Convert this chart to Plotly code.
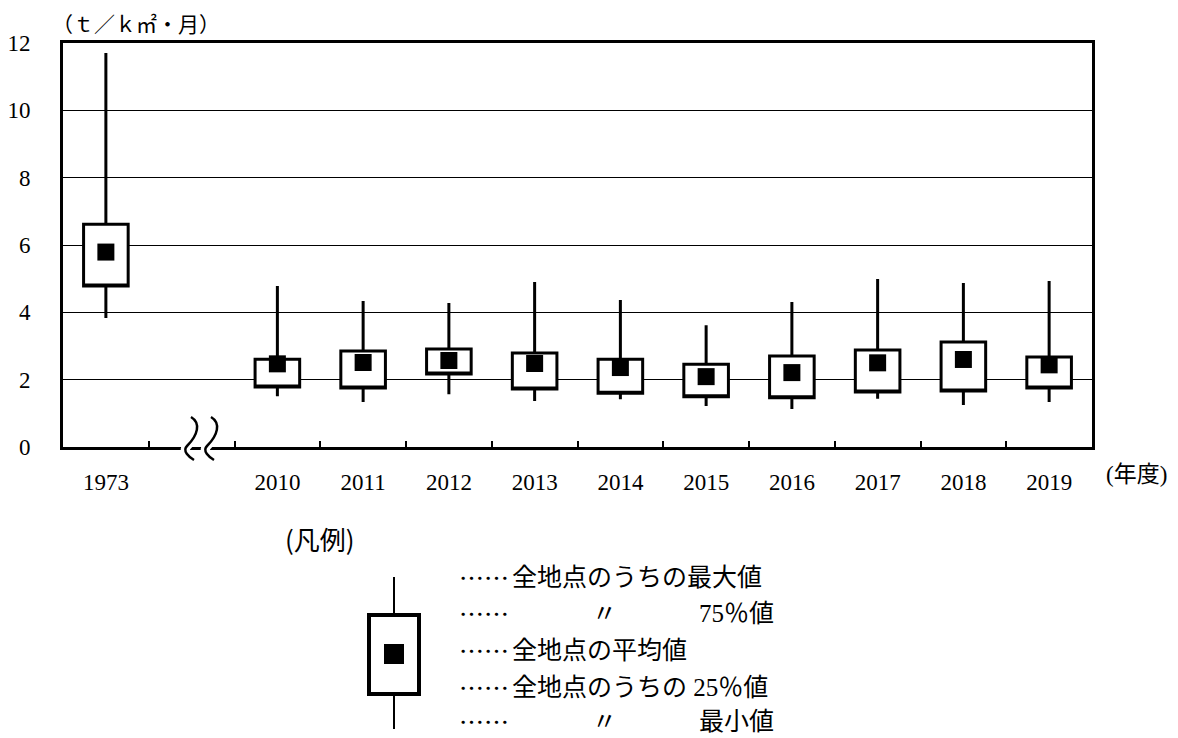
import plotly.graph_objects as go

# 降下ばいじん量 年度別の分布（全地点）
years = ["1973", "2010", "2011", "2012", "2013", "2014", "2015", "2016", "2017", "2018", "2019"]
max_vals = [11.70, 4.78, 4.34, 4.28, 4.90, 4.37, 3.62, 4.31, 4.99, 4.87, 4.93]
q3_vals = [6.62, 2.61, 2.85, 2.91, 2.79, 2.61, 2.46, 2.70, 2.88, 3.12, 2.67]
q1_vals = [4.78, 1.78, 1.75, 2.17, 1.72, 1.60, 1.49, 1.46, 1.63, 1.66, 1.75]
min_vals = [3.83, 1.51, 1.34, 1.57, 1.37, 1.42, 1.22, 1.13, 1.43, 1.25, 1.34]
mean_vals = [5.79, 2.47, 2.51, 2.57, 2.48, 2.36, 2.09, 2.21, 2.50, 2.60, 2.44]
y_ticks = [0, 2, 4, 6, 8, 10, 12]

# slot positions: 1973 first, one empty slot for the axis break, then 2010-2019
positions = [0] + [i + 2 for i in range(len(years) - 1)]
n_slots = positions[-1] + 1

W, H = 1178, 738
L, R, T, B = 63, 86, 43, 291
PW, PH = W - L - R, H - T - B

SERIF = "Liberation Serif, Noto Sans CJK JP, serif"
SANS = "Noto Sans CJK JP, DejaVu Sans, sans-serif"


def px(x):
    return (x - L) / PW


def py(y):
    return (H - B - y) / PH


fig = go.Figure()

fig.add_trace(go.Box(
    x=positions,
    q1=q1_vals,
    median=q1_vals,
    q3=q3_vals,
    lowerfence=min_vals,
    upperfence=max_vals,
    width=0.52,
    whiskerwidth=0,
    boxpoints=False,
    fillcolor="white",
    line=dict(color="black", width=3),
    hoverinfo="skip",
    showlegend=False,
))

fig.add_trace(go.Scatter(
    x=positions,
    y=mean_vals,
    mode="markers",
    marker=dict(symbol="square", size=17, color="black", line=dict(width=0)),
    hoverinfo="skip",
    showlegend=False,
))

shapes = []

# axis break mark (two S-curves across the x axis line)
def s_curve(x0):
    pts = [(x0 + 4, 417), (x0 + 14, 423), (x0 + 11, 435), (x0, 446), (x0 - 5, 451), (x0 + 2, 457), (x0 + 7, 460)]
    d = "M {:.5f},{:.5f}".format(px(pts[0][0]), py(pts[0][1]))
    d += " C {:.5f},{:.5f} {:.5f},{:.5f} {:.5f},{:.5f}".format(
        px(pts[1][0]), py(pts[1][1]), px(pts[2][0]), py(pts[2][1]), px(pts[3][0]), py(pts[3][1]))
    d += " C {:.5f},{:.5f} {:.5f},{:.5f} {:.5f},{:.5f}".format(
        px(pts[4][0]), py(pts[4][1]), px(pts[5][0]), py(pts[5][1]), px(pts[6][0]), py(pts[6][1]))
    return d


for x0 in (187, 207):
    shapes.append(dict(type="path", xref="paper", yref="paper", path=s_curve(x0),
                       line=dict(color="white", width=9), layer="above"))
for x0 in (187, 207):
    shapes.append(dict(type="path", xref="paper", yref="paper", path=s_curve(x0),
                       line=dict(color="black", width=2.5), layer="above"))

# legend glyph
shapes.append(dict(type="line", xref="paper", yref="paper",
                   x0=px(394), x1=px(394), y0=py(577), y1=py(729),
                   line=dict(color="black", width=2), layer="above"))
shapes.append(dict(type="rect", xref="paper", yref="paper",
                   x0=px(369), x1=px(419), y0=py(615), y1=py(694),
                   line=dict(color="black", width=4), fillcolor="white", layer="above"))
shapes.append(dict(type="rect", xref="paper", yref="paper",
                   x0=px(384), x1=px(404), y0=py(644), y1=py(664),
                   line=dict(color="black", width=0), fillcolor="black", layer="above"))

annotations = [
    dict(text="（ｔ／ｋ㎡・月）", x=px(50), y=py(25), xanchor="left", yanchor="middle",
         font=dict(family=SERIF, size=21, color="black")),
    dict(text="(年度)", x=px(1104), y=py(474), xanchor="left", yanchor="middle",
         font=dict(family=SERIF, size=23, color="black")),
    dict(text="(凡例)", x=px(283), y=py(538), xanchor="left", yanchor="middle",
         font=dict(family=SANS, size=26, color="black")),
]

legend_rows = [
    (577, "全地点のうちの最大値", None, None),
    (613, "", "〃", "75％値"),
    (650, "全地点の平均値", None, None),
    (687, "全地点のうちの 25％値", None, None),
    (721, "", "〃", "最小値"),
]
for yy, left_txt, ditto, right_txt in legend_rows:
    annotations.append(dict(text="⋯⋯", x=px(457), y=py(yy), xanchor="left", yanchor="middle",
                            font=dict(family=SANS, size=25, color="black")))
    if left_txt:
        annotations.append(dict(text=left_txt, x=px(510), y=py(yy), xanchor="left", yanchor="middle",
                                font=dict(family=SERIF, size=25, color="black")))
    if ditto:
        annotations.append(dict(text=ditto, x=px(604), y=py(yy), xanchor="center", yanchor="middle",
                                font=dict(family=SERIF, size=25, color="black")))
        annotations.append(dict(text=right_txt, x=px(776), y=py(yy), xanchor="right", yanchor="middle",
                                font=dict(family=SERIF, size=25, color="black")))

for a in annotations:
    a.update(xref="paper", yref="paper", showarrow=False)

fig.update_layout(
    width=W, height=H,
    margin=dict(l=L, r=R, t=T, b=B, pad=0, autoexpand=False),
    paper_bgcolor="white",
    plot_bgcolor="white",
    font=dict(family=SERIF, size=23, color="black"),
    shapes=shapes,
    annotations=annotations,
    showlegend=False,
)

fig.update_xaxes(
    range=[-0.5, n_slots - 0.5],
    tickmode="array",
    tickvals=positions,
    ticktext=years,
    ticks="",
    ticklabelstandoff=12,
    automargin=False,
    showgrid=False,
    zeroline=False,
    showline=True, linecolor="black", linewidth=3, mirror=True,
    minor=dict(tickmode="array", tickvals=[i + 0.5 for i in range(n_slots - 1)],
               ticks="inside", ticklen=6, tickwidth=2, tickcolor="black", showgrid=False),
    tickfont=dict(family=SERIF, size=23, color="black"),
)

fig.update_yaxes(
    range=[0, 12],
    tickmode="array",
    tickvals=y_ticks,
    ticks="",
    ticklabelstandoff=25,
    automargin=False,
    showgrid=True, gridcolor="black", gridwidth=1,
    zeroline=False,
    showline=True, linecolor="black", linewidth=3, mirror=True,
    tickfont=dict(family=SERIF, size=23, color="black"),
)

fig.write_html("out.html")
